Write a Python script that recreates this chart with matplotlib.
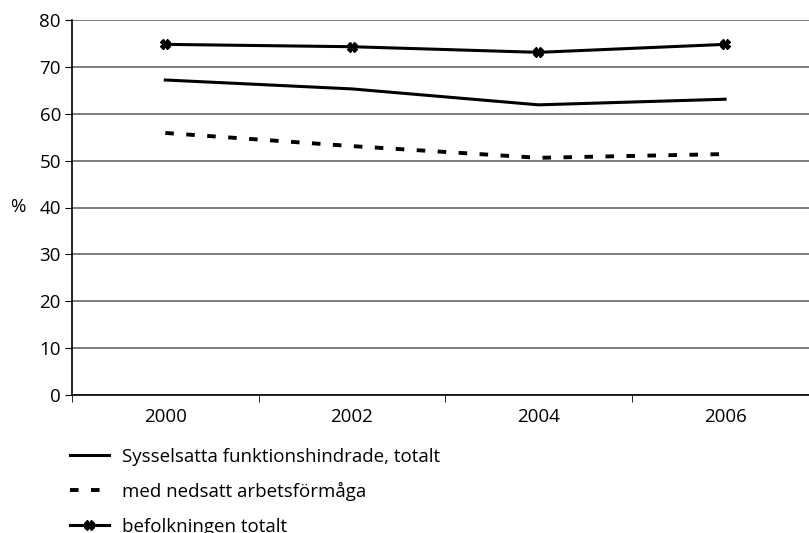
import matplotlib.pyplot as plt
from matplotlib.lines import Line2D

plt.rcParams['font.family'] = ['Open Sans', 'DejaVu Sans']

years = ['2000', '2002', '2004', '2006']
sysselsatta = [67.2, 65.3, 61.9, 63.1]
nedsatt = [55.9, 53.1, 50.6, 51.4]
befolkningen = [74.8, 74.3, 73.1, 74.8]
labels = ['Sysselsatta funktionshindrade, totalt', 'med nedsatt arbetsförmåga', 'befolkningen totalt']

fs = 13.5

fig = plt.figure(figsize=(8.09, 5.33), dpi=100)
# axes spans past the right edge, as in the original
ax = fig.add_axes([72 / 809, 1 - 395 / 533, 4 * 186.6 / 809, 375 / 533])

x = range(len(years))
ax.plot(x, sysselsatta, color='black', lw=2.2)
ax.plot(x, nedsatt, color='black', lw=2.8, dashes=(2.2, 3.2))
ax.plot(x, befolkningen, color='black', lw=2.2, marker='X', ms=6.5)

ax.set_xlim(-0.5, 3.5)
ax.set_ylim(0, 80)
ax.set_yticks(range(0, 81, 10))
ax.set_xticks(list(x))
ax.set_xticklabels(years)
ax.set_xticks([-0.5, 0.5, 1.5, 2.5, 3.5], minor=True)
ax.tick_params(axis='x', which='major', length=0, pad=9, labelsize=fs)
ax.tick_params(axis='x', which='minor', length=5, direction='out', color='black')
ax.tick_params(axis='y', length=5, direction='out', labelsize=fs, pad=3)
ax.yaxis.grid(True, color='#666666', lw=1.2)
ax.set_axisbelow(True)
for s in ['top', 'right']:
    ax.spines[s].set_visible(False)
ax.spines['left'].set_linewidth(1.2)
ax.spines['bottom'].set_linewidth(1.2)
ax.set_ylabel('%', rotation=0, fontsize=fs, va='center')
ax.yaxis.set_label_coords(-0.073, 0.5)

handles = [
    Line2D([], [], color='black', lw=2.2),
    Line2D([], [], color='black', lw=2.8, dashes=(2.2, 3.2)),
    Line2D([], [], color='black', lw=2.2, marker='X', ms=6.5),
]
fig.legend(handles, labels, loc='upper left', bbox_to_anchor=(62 / 809, 1 - 440 / 533),
           frameon=False, fontsize=fs, handlelength=2.1, labelspacing=0.88,
           handletextpad=0.7, borderaxespad=0)

fig.savefig('out.png', dpi=100)
